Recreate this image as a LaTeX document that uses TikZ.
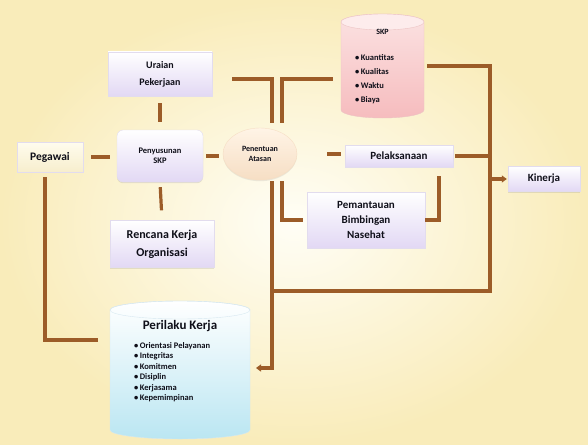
\documentclass[tikz,border=0pt]{standalone}
\usepackage{fontspec}
\setmainfont{Carlito}
\usetikzlibrary{shapes.geometric,arrows.meta,shadows}
\definecolor{connc}{RGB}{156,92,40}
\definecolor{bgout}{RGB}{249,236,186}
\definecolor{bgin}{RGB}{255,254,246}
\definecolor{lavbot}{RGB}{226,216,244}
\definecolor{lavedge}{RGB}{226,220,238}
\definecolor{creambot}{RGB}{247,238,205}
\definecolor{creamtop}{RGB}{255,252,238}
\definecolor{peachtop}{RGB}{255,244,230}
\definecolor{peachbot}{RGB}{246,222,196}
\definecolor{pinktop}{RGB}{251,226,226}
\definecolor{pinkbot}{RGB}{246,188,190}
\definecolor{pinkcap}{RGB}{253,236,236}
\definecolor{pinkedge}{RGB}{236,196,196}
\definecolor{bluebot}{RGB}{186,230,242}
\definecolor{blueedge}{RGB}{215,232,240}
\definecolor{txt}{RGB}{15,15,25}
\tikzset{
  box/.style={rectangle, top color=white, bottom color=lavbot, draw=lavedge,
    line width=0.4pt, align=center, text=txt, inner sep=2pt,
    drop shadow={opacity=0.2, shadow xshift=0pt, shadow yshift=-1.2pt}},
  conn/.style={draw=connc, line width=3.2pt},
  tip/.style={-{Triangle[length=5pt,width=7pt]}},
  fs/.style 2 args={font=\bfseries\fontsize{#1}{#2}\selectfont},
}
\begin{document}
\begin{tikzpicture}[x=1pt,y=-1pt]
\useasboundingbox (0,0) rectangle (588,444);
\shade[inner color=bgin, outer color=bgout] (0,0) rectangle (588,444);

% helper verticals
\coordinate (vG) at (45,0);
\coordinate (vL) at (272,0);
\coordinate (vR) at (282,0);
\coordinate (vP) at (439,0);
\coordinate (br) at (490,291);
\coordinate (bl) at (272,291);
\coordinate (tl) at (232,79);
\coordinate (tr) at (333,79);
\coordinate (parr) at (256,368);
\coordinate (perL) at (98,340);

% SKP cylinder
\shade[top color=pinktop, bottom color=pinkbot, draw=pinkedge, line width=0.4pt]
  (341,22) -- (341,110) arc[start angle=180,end angle=0,x radius=41.5,y radius=8]
  -- (424,22) arc[start angle=0,end angle=-180,x radius=41.5,y radius=8] -- cycle;
\fill[pinkcap, draw=pinkedge, line width=0.4pt] (382.5,22) ellipse[x radius=41.5, y radius=8];
\node[minimum width=83pt, minimum height=104pt, inner sep=0] (skp) at (382.5,66) {};
\node[fs={8}{10}, text=txt] (skpt) at (382.5,32) {SKP};
\node[anchor=north west, align=left, fs={8.5}{14}, text=txt, inner sep=0] (skpl) at (355,54)
  {\textbullet\,Kuantitas\\\textbullet\,Kualitas\\\textbullet\,Waktu\\\textbullet\,Biaya};

% Perilaku Kerja cylinder
\shade[top color=white, bottom color=bluebot, draw=blueedge, line width=0.4pt]
  (110,310) -- (110,430) arc[start angle=180,end angle=0,x radius=70,y radius=9]
  -- (250,310) arc[start angle=0,end angle=-180,x radius=70,y radius=9] -- cycle;
\draw[blueedge, line width=0.4pt] (180,310) ellipse[x radius=70, y radius=9];
\node[minimum width=140pt, minimum height=136pt, inner sep=0] (per) at (180,370) {};
\node[fs={13}{15}, text=txt] (pert) at (180,326) {Perilaku Kerja};
\node[anchor=north west, align=left, fs={8.5}{10.5}, text=txt, inner sep=0] (perl) at (134,342)
  {\textbullet\,Orientasi Pelayanan\\\textbullet\,Integritas\\\textbullet\,Komitmen\\\textbullet\,Disiplin\\\textbullet\,Kerjasama\\\textbullet\,Kepemimpinan};

% boxes
\node[box, top color=creamtop, bottom color=creambot, minimum width=66pt, minimum height=30pt, fs={11.5}{13}] (peg) at (50,157) {Pegawai};
\node[box, minimum width=104pt, minimum height=44pt, fs={10}{17}] (ur) at (160,74) {Uraian\\Pekerjaan};
\node[box, rounded corners=6pt, minimum width=86pt, minimum height=52pt, fs={8.5}{10.5}] (pys) at (160,156) {Penyusunan\\SKP};
\node[box, minimum width=104pt, minimum height=47pt, fs={12}{18}] (rko) at (162,244) {Rencana Kerja\\Organisasi};
\node[ellipse, top color=peachtop, bottom color=peachbot, draw=peachbot, line width=0.4pt,
  minimum width=74pt, minimum height=52pt, align=center, text=txt, inner sep=1pt, fs={8}{10},
  drop shadow={opacity=0.15, shadow xshift=0pt, shadow yshift=-1.2pt}] (pen) at (260,154) {Penentuan\\Atasan};
\node[box, minimum width=108pt, minimum height=22pt, fs={11}{13}] (pel) at (399,156) {Pelaksanaan};
\node[box, minimum width=118pt, minimum height=56pt, fs={11}{15}] (pem) at (366,220) {Pemantauan\\Bimbingan\\Nasehat};
\node[box, minimum width=72pt, minimum height=25pt, fs={11}{13}] (kin) at (544,179) {Kinerja};

% connectors
\draw[conn, shorten <=8pt, shorten >=7pt] (peg.east) -- (peg.east -| pys.west);
\draw[conn, shorten <=3pt, shorten >=4pt] (pys.east) -- (pys.east -| pen.west);
\draw[conn, shorten <=30pt, shorten >=4pt] (pen.east) -- (pen.east -| pel.west);
\draw[conn, shorten <=7pt, shorten >=8pt] (ur.south) -- (pys.north);
\draw[conn, shorten <=5pt, shorten >=10pt] (pys.south) -- (rko.north);
\draw[conn, shorten <=5pt] (pen.north -| vL) |- (tl);
\draw[conn, shorten <=5pt] (pen.north -| vR) |- (tr);
\draw[conn, shorten <=3pt] (skp.east) -| (br) -- (bl);
\draw[conn, shorten <=2pt] (pel.east) -- (pel.east -| br);
\draw[conn, tip, shorten >=1pt] (kin.west -| br) -- (kin.west);
\draw[conn, tip, shorten <=1pt] (pen.south -| vL) |- (parr);
\draw[conn, shorten <=1pt, shorten >=4pt] (pen.south -| vR) |- (pem.west);
\draw[conn, shorten <=9pt] (pel.south -| vP) |- (pem.east);
\draw[conn, shorten <=5pt] (peg.south -| vG) |- (perL);
\end{tikzpicture}
\end{document}
